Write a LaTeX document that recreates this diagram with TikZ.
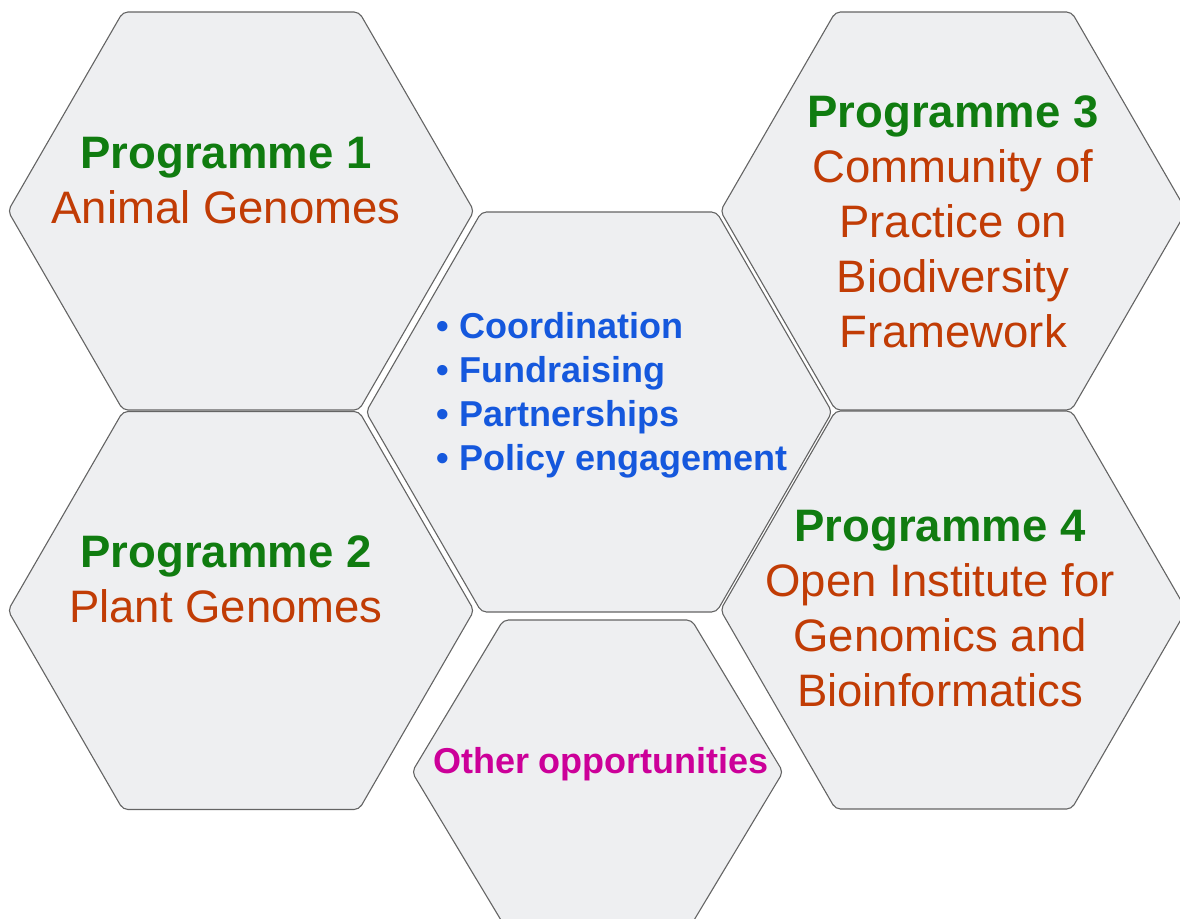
\documentclass[tikz,border=0pt]{standalone}
\usepackage{fontspec}
\setmainfont{Liberation Sans}
\usetikzlibrary{shapes.symbols,positioning}
\definecolor{hexfill}{HTML}{EEEFF1}
\definecolor{hexline}{HTML}{646464}
\definecolor{progreen}{HTML}{107C10}
\definecolor{progbrown}{HTML}{C13C05}
\definecolor{coreblue}{HTML}{1558DD}
\definecolor{othermag}{HTML}{CC0099}
\tikzset{
  hexcell/.style={signal,signal to=west and east,signal pointer angle=120,
    minimum width=466pt,minimum height=398pt,
    inner sep=0pt,outer sep=0pt,draw=hexline,fill=hexfill,line width=1.1pt,rounded corners=5pt},
  progtitle/.style={anchor=base,text=progreen,font=\fontsize{45.5}{55}\selectfont\bfseries},
  progbody/.style={anchor=base,align=center,text=progbrown,font=\fontsize{45.5}{55}\selectfont},
  coretext/.style={anchor=base west,align=left,text=coreblue,font=\fontsize{36}{44}\selectfont\bfseries},
}
\begin{document}
\begin{tikzpicture}[x=1pt,y=-1pt]
\useasboundingbox (0,0) rectangle (1180,918);
\clip (0,0) rectangle (1180,918);
% honeycomb
\node[hexcell] (hex1) at (241,211) {};
\node[hexcell] (hex2) at (241,610.5) {};
\node[hexcell,minimum height=400pt] (hexc) at (599,412) {};
\node[hexcell] (hex3) at (953.5,211) {};
\node[hexcell] (hex4) at (953.5,610) {};
\node[hexcell,minimum width=371pt,minimum height=304pt,signal pointer angle=118] (hexo) at (597.5,772) {};
% programmes (base = last line)
\node[progtitle] (t1) at (226,168) {Programme 1};
\node[progbody] (b1) at (226,223) {Animal Genomes};
\node[progtitle] (t2) at (226,567) {Programme 2};
\node[progbody] (b2) at (226,622) {Plant Genomes};
\node[progtitle] (t3) at (953,127) {Programme 3};
\node[progbody] (b3) at (953,347) {Community of\\Practice on\\Biodiversity\\Framework};
\node[progtitle] (t4) at (940,541) {Programme 4};
\node[progbody] (b4) at (940,706) {Open Institute for\\Genomics and\\Bioinformatics};
% core and other
\node[coretext] (core) at (433,470) {• Coordination\\• Fundraising\\• Partnerships\\• Policy engagement};
\node[anchor=base,text=othermag,font=\fontsize{36}{44}\selectfont\bfseries] (other) at (601,773) {Other opportunities};
\end{tikzpicture}
\end{document}
